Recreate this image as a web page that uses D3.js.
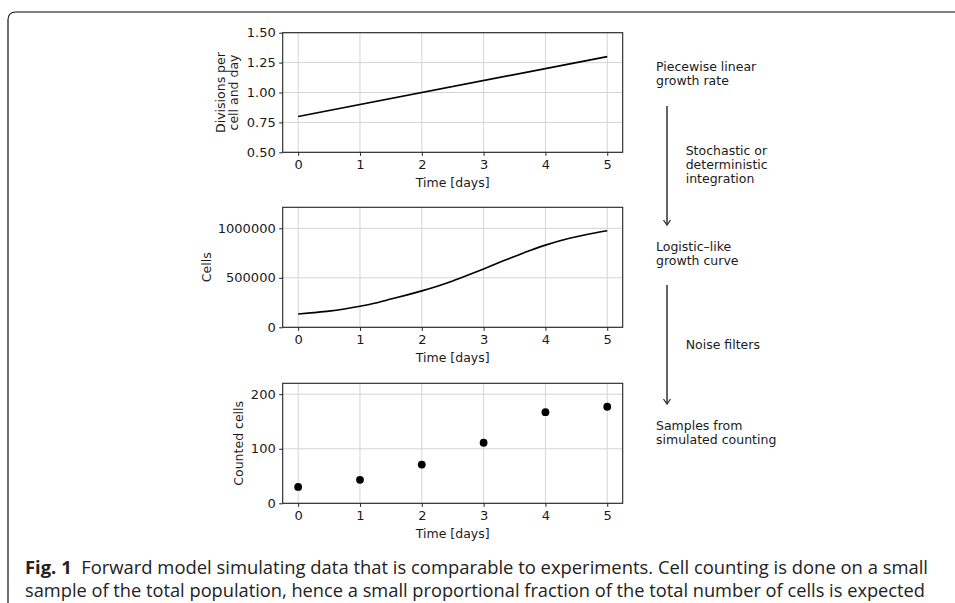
<!DOCTYPE html>
<html><head><meta charset="utf-8">
<script src="https://cdn.jsdelivr.net/npm/d3@7"></script>
<style>body{margin:0;background:#fff;overflow:hidden} svg text{font-family:"DejaVu Sans",sans-serif;fill:#1a1a1a}</style>
</head><body><svg id="c" width="955" height="603"></svg>
<script>
// ---- data ----
const xTicks = [0, 1, 2, 3, 4, 5];
const rateTimes = [0, 5];
const rateValues = [0.80, 1.30];
const rateTicks = [0.50, 0.75, 1.00, 1.25, 1.50];
const cellTimes = [0, 0.25, 0.5, 0.75, 1, 1.25, 1.5, 1.75, 2, 2.25, 2.5, 2.75, 3, 3.25, 3.5, 3.75, 4, 4.25, 4.5, 4.75, 5];
const cellValues = [135000, 148000, 163000, 185000, 212000, 245000, 285000, 325000, 368000, 415000, 468000, 528000, 590000, 655000, 715000, 775000, 830000, 877000, 915000, 948000, 975000];
const cellTicks = [0, 500000, 1000000];
const countDays = [0, 1, 2, 3, 4, 5];
const countValues = [30, 43, 71, 111, 167, 177];
const countTicks = [0, 100, 200];
const stepLabels = [
  {lines: ["Piecewise linear", "growth rate"], y: 67},
  {lines: ["Stochastic or", "deterministic", "integration"], y: 151, indent: true},
  {lines: ["Logistic\u2013like", "growth curve"], y: 247},
  {lines: ["Noise filters"], y: 345, indent: true},
  {lines: ["Samples from", "simulated counting"], y: 426}
];
const captionBold = "Fig. 1";
const captionLine1 = "  Forward model simulating data that is comparable to experiments. Cell counting is done on a small";
const captionLine2 = "sample of the total population, hence a small proportional fraction of the total number of cells is expected";

// ---- layout ----
const svg = d3.select("#c");
const X0 = 282.7, X1 = 622.7;
const x = d3.scaleLinear().domain([-0.25, 5.25]).range([X0, X1]);
const FS = 12.5, TFS = 13;

// frame
svg.append("path").attr("d", "M8,603 L8,20 Q8,12 16,12").attr("fill", "none").attr("stroke", "#111").attr("stroke-width", 1.2);
svg.append("line").attr("x1", 16).attr("x2", 955).attr("y1", 12).attr("y2", 12).attr("stroke", "#808080").attr("stroke-width", 2);

function panel(top, bottom, domain, ticks, fmt, ylabLines, ylabX) {
  const y = d3.scaleLinear().domain(domain).range([bottom, top]);
  const g = svg.append("g");
  g.selectAll(".gx").data(xTicks).join("line")
    .attr("x1", d => x(d)).attr("x2", d => x(d)).attr("y1", top).attr("y2", bottom)
    .attr("stroke", "#d4d4d4").attr("stroke-width", 1);
  g.selectAll(".gy").data(ticks).join("line")
    .attr("x1", X0).attr("x2", X1).attr("y1", d => y(d)).attr("y2", d => y(d))
    .attr("stroke", "#d4d4d4").attr("stroke-width", 1);
  const ax = g.append("g").attr("transform", `translate(0,${bottom})`)
    .call(d3.axisBottom(x).tickValues(xTicks).tickSize(3.5).tickPadding(3.5).tickFormat(d3.format("d")));
  const ay = g.append("g").attr("transform", `translate(${X0},0)`)
    .call(d3.axisLeft(y).tickValues(ticks).tickSize(3.5).tickPadding(3.5).tickFormat(fmt));
  [ax, ay].forEach(a => {
    a.select(".domain").remove();
    a.selectAll("line").attr("stroke", "#222").attr("stroke-width", 1);
    a.selectAll("text").attr("font-size", TFS).attr("fill", "#1a1a1a");
  });
  g.append("rect").attr("x", X0).attr("y", top).attr("width", X1 - X0).attr("height", bottom - top)
    .attr("fill", "none").attr("stroke", "#222").attr("stroke-width", 1.1);
  g.append("text").attr("x", (X0 + X1) / 2).attr("y", bottom + 35).attr("text-anchor", "middle")
    .attr("font-size", FS).text("Time [days]");
  const cy = (top + bottom) / 2;
  ylabLines.forEach((s, i) => {
    g.append("text").attr("transform", `translate(${ylabX + i * 13},${cy}) rotate(-90)`)
      .attr("text-anchor", "middle").attr("dy", "0.35em").attr("font-size", FS).text(s);
  });
  return {g, y};
}

const p1 = panel(32.7, 152.3, [0.5, 1.5], rateTicks, d3.format(".2f"), ["Divisions per", "cell and day"], 220.5);
p1.g.append("path").datum(rateTimes.map((t, i) => [t, rateValues[i]]))
  .attr("d", d3.line().x(d => x(d[0])).y(d => p1.y(d[1])))
  .attr("fill", "none").attr("stroke", "#000").attr("stroke-width", 1.6);

const p2 = panel(207.3, 327.3, [0, 1212000], cellTicks, d => String(d), ["Cells"], 206.7);
p2.g.append("path").datum(cellTimes.map((t, i) => [t, cellValues[i]]))
  .attr("d", d3.line().curve(d3.curveMonotoneX).x(d => x(d[0])).y(d => p2.y(d[1])))
  .attr("fill", "none").attr("stroke", "#000").attr("stroke-width", 1.6);

const p3 = panel(383.3, 503.3, [0, 220], countTicks, d => String(d), ["Counted cells"], 238.3);
p3.g.selectAll("circle").data(countDays).join("circle")
  .attr("cx", d => x(d)).attr("cy", (d, i) => p3.y(countValues[i])).attr("r", 3.9).attr("fill", "#000");

// right annotations
stepLabels.forEach(s => {
  s.lines.forEach((l, i) => {
    svg.append("text").attr("x", s.indent ? 685.7 : 656).attr("y", s.y + i * 14).attr("dy", "0.35em")
      .attr("font-size", FS).text(l);
  });
});
[[106, 224], [285, 403]].forEach(([a, b]) => {
  svg.append("line").attr("x1", 667).attr("x2", 667).attr("y1", a).attr("y2", b)
    .attr("stroke", "#333").attr("stroke-width", 1.5);
  svg.append("path").attr("d", `M663.5,${b - 4} L667,${b + 1} L670.5,${b - 4}`).attr("fill", "none")
    .attr("stroke", "#333").attr("stroke-width", 1.3);
});

// caption
const c1 = svg.append("text").attr("x", 25).attr("y", 574).attr("font-size", 17.5)
  .attr("textLength", 903).attr("lengthAdjust", "spacingAndGlyphs")
  .style("font-family", "'Open Sans'").style("fill", "#222");
c1.append("tspan").attr("font-weight", "bold").text(captionBold);
c1.append("tspan").attr("xml:space", "preserve").text(captionLine1);
svg.append("text").attr("x", 25).attr("y", 597).attr("font-size", 17.5)
  .attr("textLength", 900).attr("lengthAdjust", "spacingAndGlyphs")
  .style("font-family", "'Open Sans'").style("fill", "#222").text(captionLine2);
</script></body></html>
